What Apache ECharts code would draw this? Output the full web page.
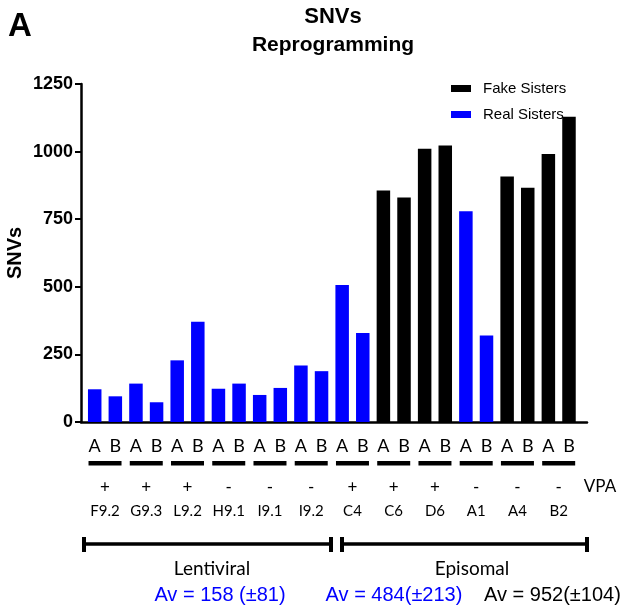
<!DOCTYPE html>
<html>
<head>
<meta charset="utf-8">
<script src="https://cdn.jsdelivr.net/npm/echarts@6/dist/echarts.min.js"></script>
<style>
  html, body { margin: 0; padding: 0; background: #fff; }
  #chart { width: 624px; height: 612px; }
</style>
</head>
<body>
<div id="chart"></div>
<script>
// Sister lines per clone (A/B), SNV counts
const barLabels = ['A','B','A','B','A','B','A','B','A','B','A','B',
                   'A','B','A','B','A','B','A','B','A','B','A','B'];
const clones = ['F9.2','G9.3','L9.2','H9.1','I9.1','I9.2','C4','C6','D6','A1','A4','B2'];
const vpa = ['+','+','+','-','-','-','+','+','+','-','-','-'];
const fakeSisters = [null, null, null, null, null, null, null, null, null, null, null, null,
                     null, null, 856, 830, 1011, 1023, null, null, 908, 866, 991, 1129];
const realSisters = [121, 95, 142, 73, 228, 371, 123, 142, 100, 126, 209, 188,
                     507, 329, null, null, null, null, 779, 320, null, null, null, null];
const yTicks = { min: 0, max: 1250, interval: 250 };

const BLUE = '#0000ff';
const SANS = 'Liberation Sans, Arial, sans-serif';
const LABEL_FONT = 'Lato, sans-serif';

const chart = echarts.init(document.getElementById('chart'), null, { renderer: 'canvas' });

const hiddenCat = (data, margin, extra) => Object.assign({
  gridIndex: 1,
  type: 'category',
  data: data,
  position: 'bottom',
  axisLine: { show: false },
  axisTick: { show: false },
  splitLine: { show: false },
  axisLabel: Object.assign({
    interval: 0,
    margin: margin,
    color: '#000',
    fontFamily: LABEL_FONT
  }, extra || {})
});

const option = {
  animation: false,
  backgroundColor: '#fff',
  legend: {
    orient: 'vertical',
    left: 446,
    top: 76,
    itemWidth: 20,
    itemHeight: 7,
    itemGap: 11,
    icon: 'rect',
    data: ['Fake Sisters', 'Real Sisters'],
    textStyle: { fontFamily: SANS, fontSize: 15, color: '#000', padding: [0, 0, 0, 7] }
  },
  grid: [
    { left: 81, right: 37, top: 84, bottom: 190, containLabel: false, outerBoundsMode: 'none' },
    { left: 84.4, right: 44.7, top: 84, bottom: 190, containLabel: false, outerBoundsMode: 'none' }
  ],
  xAxis: [
    {
      gridIndex: 0, type: 'value', min: 0, max: 1,
      axisLine: { show: true, lineStyle: { color: '#000', width: 2.5 } },
      axisTick: { show: false }, axisLabel: { show: false }, splitLine: { show: false }
    },
    hiddenCat(barLabels, 15, { fontSize: 18 }),
    hiddenCat(clones, 39, {
      formatter: () => '{u| }',
      rich: { u: { width: 33, height: 4.5, backgroundColor: '#000', fontSize: 2, lineHeight: 4.5 } }
    }),
    hiddenCat(vpa, 57, { fontSize: 17 }),
    hiddenCat(clones, 82, { fontSize: 15 })
  ],
  yAxis: [
    {
      gridIndex: 0, type: 'value',
      min: yTicks.min, max: yTicks.max, interval: yTicks.interval,
      name: 'SNVs', nameLocation: 'middle', nameRotate: 90, nameGap: 56,
      nameMoveOverlap: false,
      nameTextStyle: { fontFamily: SANS, fontWeight: 'bold', fontSize: 20, color: '#000' },
      axisLine: { show: true, lineStyle: { color: '#000', width: 2.5 } },
      axisTick: { show: true, length: 6, lineStyle: { color: '#000', width: 2 } },
      axisLabel: {
        margin: 8, fontFamily: SANS, fontWeight: 'bold', fontSize: 18, color: '#000',
        formatter: (v) => String(v)
      },
      splitLine: { show: false }
    },
    {
      gridIndex: 1, type: 'value', show: false,
      min: yTicks.min, max: yTicks.max, interval: yTicks.interval,
      splitLine: { show: false }
    }
  ],
  series: [
    {
      name: 'Fake Sisters', type: 'bar', xAxisIndex: 1, yAxisIndex: 1,
      data: fakeSisters, barWidth: 13.5, barGap: '-100%',
      itemStyle: { color: '#000' }
    },
    {
      name: 'Real Sisters', type: 'bar', xAxisIndex: 1, yAxisIndex: 1,
      data: realSisters, barWidth: 13.5, barGap: '-100%',
      itemStyle: { color: BLUE }
    }
  ],
  graphic: [
    // panel letter and title
    { type: 'text', left: 8, top: 10, style: { text: 'A', font: 'bold 33px ' + SANS, fill: '#000' } },
    { type: 'text', x: 333, y: 17, style: { text: 'SNVs', font: 'bold 22px ' + SANS, fill: '#000', textAlign: 'center', textVerticalAlign: 'middle' } },
    { type: 'text', x: 333, y: 45, style: { text: 'Reprogramming', font: 'bold 21px ' + SANS, fill: '#000', textAlign: 'center', textVerticalAlign: 'middle' } },
    // treatment row header
    { type: 'text', x: 600, y: 487, style: { text: 'VPA', font: '17px ' + LABEL_FONT, fill: '#000', textAlign: 'center', textVerticalAlign: 'middle' } },
    // method brackets
    { type: 'line', shape: { x1: 83, y1: 544, x2: 332, y2: 544 }, style: { stroke: '#000', lineWidth: 3.5 } },
    { type: 'line', shape: { x1: 84, y1: 537, x2: 84, y2: 552 }, style: { stroke: '#000', lineWidth: 4 } },
    { type: 'line', shape: { x1: 331, y1: 537, x2: 331, y2: 552 }, style: { stroke: '#000', lineWidth: 4 } },
    { type: 'line', shape: { x1: 341, y1: 544, x2: 588, y2: 544 }, style: { stroke: '#000', lineWidth: 3.5 } },
    { type: 'line', shape: { x1: 342, y1: 537, x2: 342, y2: 552 }, style: { stroke: '#000', lineWidth: 4 } },
    { type: 'line', shape: { x1: 587, y1: 537, x2: 587, y2: 552 }, style: { stroke: '#000', lineWidth: 4 } },
    { type: 'text', x: 212, y: 569, style: { text: 'Lentiviral', font: '19px ' + LABEL_FONT, fill: '#000', textAlign: 'center', textVerticalAlign: 'middle' } },
    { type: 'text', x: 472, y: 569, style: { text: 'Episomal', font: '19px ' + LABEL_FONT, fill: '#000', textAlign: 'center', textVerticalAlign: 'middle' } },
    // group averages
    { type: 'text', x: 220, y: 595, style: { text: 'Av = 158 (\u00B181)', font: '20px ' + SANS, fill: BLUE, textAlign: 'center', textVerticalAlign: 'middle' } },
    { type: 'text', x: 394, y: 595, style: { text: 'Av = 484(\u00B1213)', font: '20px ' + SANS, fill: BLUE, textAlign: 'center', textVerticalAlign: 'middle' } },
    { type: 'text', x: 484, y: 595, style: { text: 'Av = 952(\u00B1104)', font: '20px ' + SANS, fill: '#000', textAlign: 'left', textVerticalAlign: 'middle' } }
  ]
};

chart.setOption(option);
</script>
</body>
</html>
